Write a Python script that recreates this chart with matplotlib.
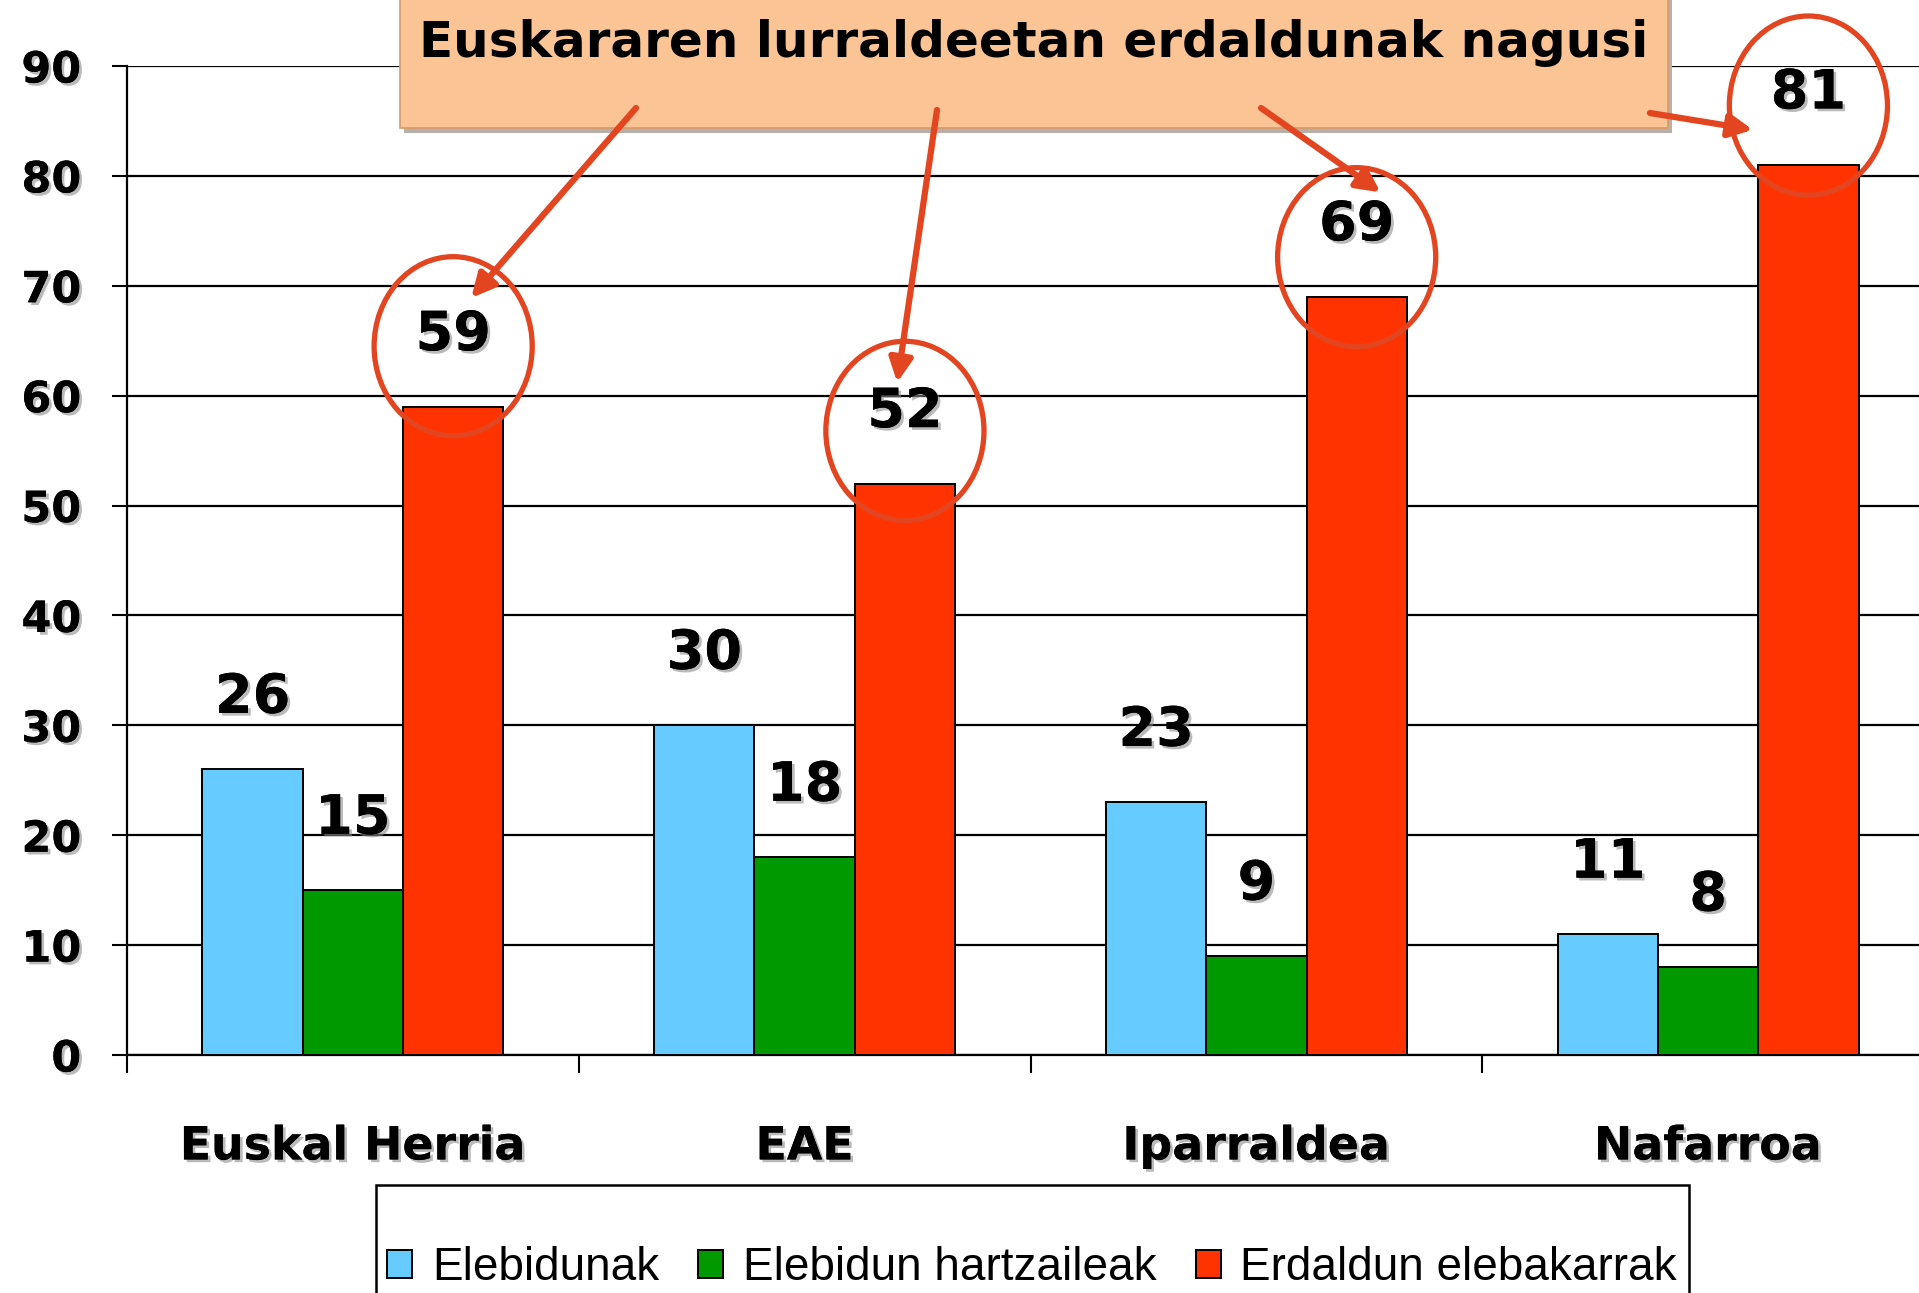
import matplotlib
matplotlib.use("Agg")
import matplotlib.pyplot as plt
import matplotlib.patheffects as pe
from matplotlib.patches import Ellipse, Rectangle, Patch
from matplotlib.text import Annotation
import numpy as np

# ---------------------------------- data ----------------------------------- #
regions = ["Euskal Herria", "EAE", "Iparraldea", "Nafarroa"]
series = ["Elebidunak", "Elebidun hartzaileak", "Erdaldun elebakarrak"]
elebidunak = [26, 30, 23, 11]
hartzaileak = [15, 18, 9, 8]
erdaldunak = [59, 52, 69, 81]
yticks = [0, 10, 20, 30, 40, 50, 60, 70, 80, 90]
title = "Euskararen lurraldeetan erdaldunak nagusi"
# --------------------------------------------------------------------------- #

colors = ["#66CCFF", "#009900", "#FF3300"]
red_line = "#E2451F"
W, H = 1919, 1293

fig = plt.figure(figsize=(W / 100, H / 100), dpi=100)
ax = fig.add_axes([127 / W, 238 / H, (1934 - 127) / W, 989 / H])

x = np.arange(len(regions))
bw = 0.222
shadow = [pe.withSimplePatchShadow(offset=(2, -2), shadow_rgbFace="0.55", alpha=0.6), pe.Normal()]

for j, vals in enumerate([elebidunak, hartzaileak, erdaldunak]):
    pos = x + (j - 1) * bw
    ax.bar(pos, vals, width=bw, color=colors[j], edgecolor="black", linewidth=1.4, zorder=3)
    for p, v in zip(pos, vals):
        ax.text(p, v + 6.5, str(v), ha="center", va="center", fontsize=39,
                fontweight="bold", family="DejaVu Sans", zorder=5, path_effects=shadow)

# circles around the red values (vertical offset of each circle above its bar)
circle_dy = [5.5, 4.8, 3.6, 5.4]
for i, v in enumerate(erdaldunak):
    ax.add_patch(Ellipse((x[i] + bw, v + circle_dy[i]), 0.35, 16.3, fill=False,
                         edgecolor=red_line, linewidth=3.8, zorder=6, clip_on=False))

ax.set_xlim(-0.5, len(regions) - 0.5)
ax.set_ylim(0, 90)
ax.set_yticks(yticks)
ax.set_yticklabels([str(t) for t in yticks], fontsize=31, fontweight="bold", family="DejaVu Sans")
ax.set_xticks(x)
ax.set_xticklabels(regions, fontsize=33, fontweight="bold", family="DejaVu Sans")
ax.set_xticks(np.arange(len(regions) + 1) - 0.5, minor=True)
ax.tick_params(axis="x", which="major", length=0, pad=50)
ax.tick_params(axis="x", which="minor", length=13, width=1.5, direction="out")
ax.tick_params(axis="y", length=11, width=1.5, direction="out", pad=22)
for lab in ax.get_xticklabels() + ax.get_yticklabels():
    lab.set_path_effects(shadow)

ax.grid(axis="y", color="black", linewidth=1.6, zorder=0)
ax.set_axisbelow(True)
for s in ["top", "right"]:
    ax.spines[s].set_visible(False)
for s in ["left", "bottom"]:
    ax.spines[s].set_linewidth(1.6)

# title box
fig.add_artist(Rectangle((404 / W, (H - 133) / H), (1668 - 400) / W, 135 / H,
                         transform=fig.transFigure, facecolor="#B8B0A8", edgecolor="none", zorder=1))
fig.add_artist(Rectangle((400 / W, (H - 128) / H), (1668 - 400) / W, 132 / H,
                         transform=fig.transFigure, facecolor="#FBC495", edgecolor="#D99A66",
                         linewidth=1.2, zorder=2))
fig.text(1034 / W, (H - 43) / H, title, ha="center", va="center", fontsize=36,
         fontweight="bold", family="DejaVu Sans", zorder=4)

# arrows from inside the box to the circles
tails = [(636, H - 108), (937, H - 110), (1261, H - 108), (1650, H - 113)]
tip_offsets = [(0.04, 9.9), (-0.017, 9.2), (0.053, 9.5), (-0.123, 3.2)]
for i, v in enumerate(erdaldunak):
    dx, dy = tip_offsets[i]
    arrow = Annotation("", xy=(x[i] + bw + dx, v + dy), xycoords=ax.transData,
                       xytext=tails[i], textcoords="figure pixels",
                       arrowprops=dict(arrowstyle="-|>,head_length=1.4,head_width=0.7",
                                       color=red_line, linewidth=4.5, shrinkA=0, shrinkB=0),
                       annotation_clip=False)
    arrow.set_zorder(5)
    fig.add_artist(arrow)

# legend
fig.add_artist(Rectangle((376 / W, -0.05), (1689 - 376) / W, (H - 1185) / H + 0.05,
                         transform=fig.transFigure, facecolor="white", edgecolor="black",
                         linewidth=1.8, zorder=1))
handles = [Patch(facecolor=c, edgecolor="black", linewidth=1.4) for c in colors]
leg = fig.legend(handles, series, loc="center", bbox_to_anchor=(1032 / W, 25 / H), ncol=3,
                 frameon=False, handlelength=0.55, handleheight=0.55,
                 handletextpad=0.43, columnspacing=0.85, borderpad=0,
                 prop={"family": "Liberation Sans", "size": 33})
leg.set_zorder(5)

fig.savefig("out.png", dpi=100)
